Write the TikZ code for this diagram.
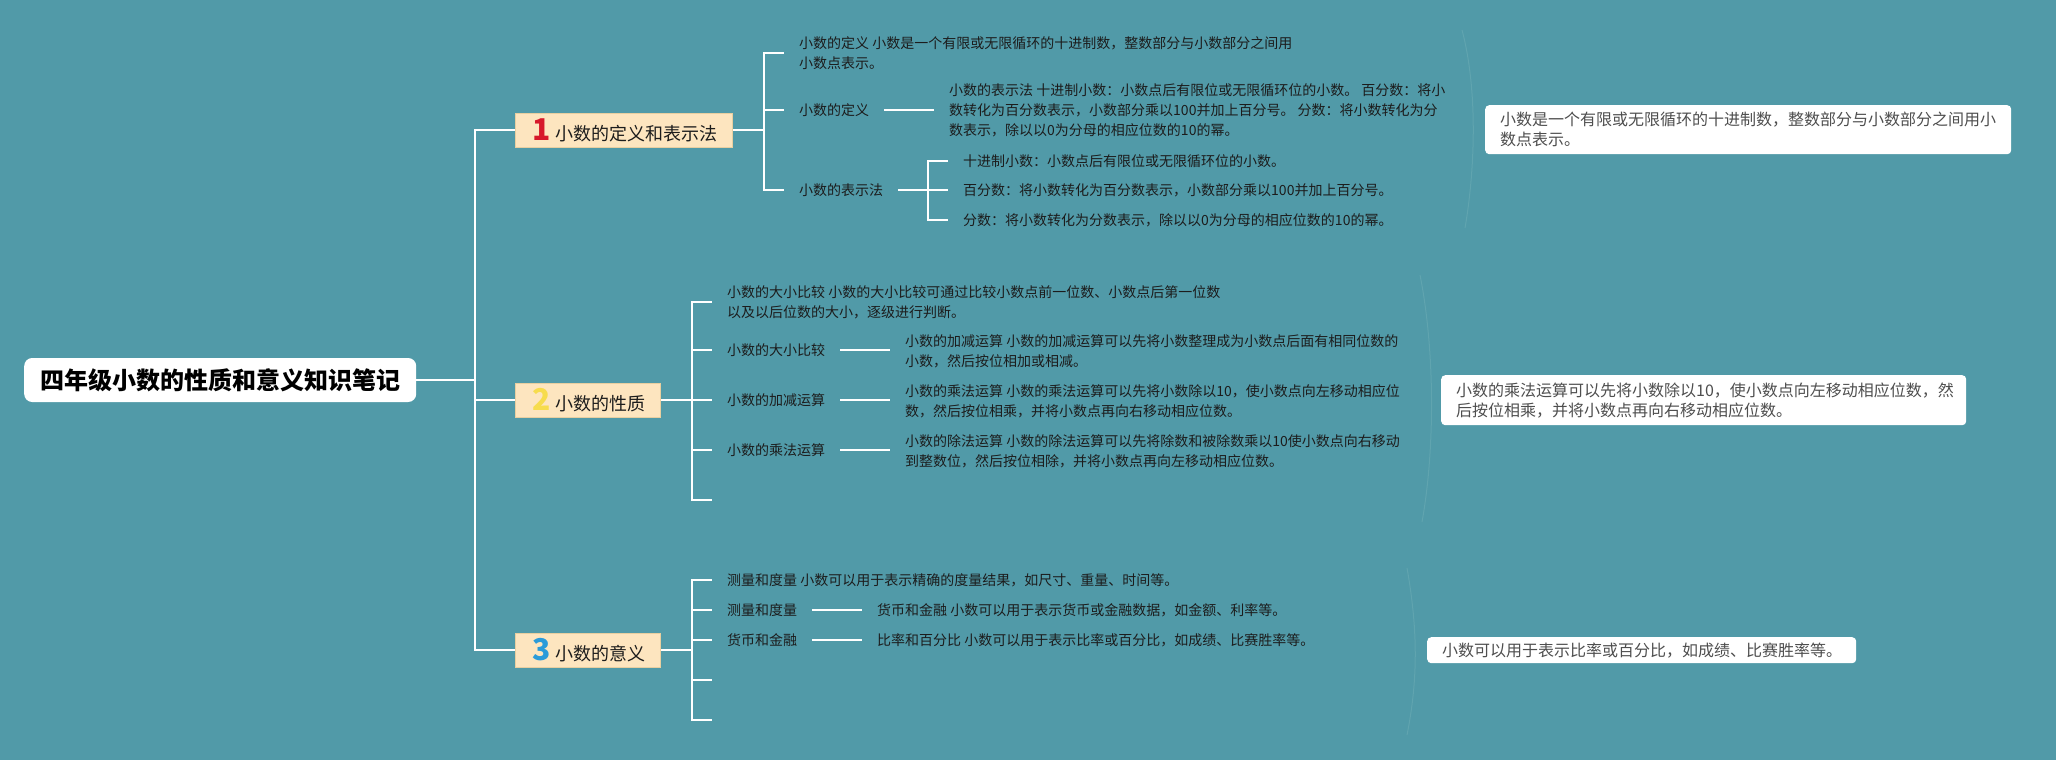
\documentclass[tikz,border=0pt]{standalone}
\usepackage{fontspec}
\setmainfont{Noto Sans CJK SC}
\usepackage{xcolor}
\usepackage{tikz}
\usetikzlibrary{
    positioning
}

\definecolor{bgteal}{RGB}{81,154,168}
\definecolor{topicfill}{RGB}{253,229,191}
\definecolor{topicline}{RGB}{233,207,160}
\definecolor{textdark}{RGB}{28,28,28}
\definecolor{notegray}{RGB}{78,78,78}
\definecolor{summline}{RGB}{96,164,175}
\definecolor{numred}{RGB}{215,24,42}
\definecolor{numyellow}{RGB}{247,220,77}
\definecolor{numblue}{RGB}{43,155,217}

\newcommand{\bignum}[2]{{\fontsize{30}{30}\selectfont\bfseries\color{#1}#2}}

\begin{document}
\begin{tikzpicture}[
      x=1pt, y=-1pt,
      root/.style={rectangle, fill=white, rounded corners=8pt, anchor=west,
          inner xsep=16pt, inner ysep=0pt, minimum height=44pt,
          font=\fontsize{24}{28}\selectfont\bfseries, text=black},
      topic/.style={rectangle, fill=topicfill, draw=topicline, line width=0.8pt, anchor=west,
          inner xsep=15pt, inner ysep=0pt, minimum height=34pt,
          font=\fontsize{18}{22}\selectfont, text=textdark},
      leaf/.style={anchor=west, inner xsep=15pt, inner ysep=2pt, align=left,
          font=\fontsize{14}{20}\selectfont, text=textdark},
      note/.style={rectangle, fill=white, rounded corners=4pt, anchor=north west,
          inner xsep=15pt, inner ysep=0pt, align=left,
          font=\fontsize{16}{20}\selectfont, text=notegray},
      link/.style={draw=white, line width=2pt},
      summ/.style={draw=summline, line width=1pt}
    ]
    \path[use as bounding box, fill=bgteal] (0,0) rectangle (2056,760);

    \node[root] (root) at (24,380) {四年级小数的性质和意义知识笔记};

    \node[topic] (b1) at (515,130) {\hspace{2pt}\bignum{numred}{1}\hspace{5pt}小数的定义和表示法};
    \node[topic] (b2) at (515,400) {\hspace{2pt}\bignum{numyellow}{2}\hspace{5pt}小数的性质};
    \node[topic] (b3) at (515,650) {\hspace{2pt}\bignum{numblue}{3}\hspace{5pt}小数的意义};

    % branch 1
    \node[leaf] (t11) at (784,53) {小数的定义 小数是一个有限或无限循环的十进制数，整数部分与小数部分之间用\\小数点表示。};
    \node[leaf] (t12) at (784,110) {小数的定义};
    \node[leaf] (t12r) at (934,110) {小数的表示法 十进制小数：小数点后有限位或无限循环位的小数。 百分数：将小\\数转化为百分数表示，小数部分乘以100并加上百分号。 分数：将小数转化为分\\数表示，除以以0为分母的相应位数的10的幂。};
    \node[leaf] (t13) at (784,190) {小数的表示法};
    \node[leaf] (t131) at (948,161) {十进制小数：小数点后有限位或无限循环位的小数。};
    \node[leaf] (t132) at (948,190) {百分数：将小数转化为百分数表示，小数部分乘以100并加上百分号。};
    \node[leaf] (t133) at (948,220) {分数：将小数转化为分数表示，除以以0为分母的相应位数的10的幂。};

    % branch 2
    \node[leaf] (t21) at (712,302) {小数的大小比较 小数的大小比较可通过比较小数点前一位数、小数点后第一位数\\以及以后位数的大小，逐级进行判断。};
    \node[leaf] (t22) at (712,350) {小数的大小比较};
    \node[leaf] (t22r) at (890,351) {小数的加减运算 小数的加减运算可以先将小数整理成为小数点后面有相同位数的\\小数，然后按位相加或相减。};
    \node[leaf] (t23) at (712,400) {小数的加减运算};
    \node[leaf] (t23r) at (890,401) {小数的乘法运算 小数的乘法运算可以先将小数除以10，使小数点向左移动相应位\\数，然后按位相乘，并将小数点再向右移动相应位数。};
    \node[leaf] (t24) at (712,450) {小数的乘法运算};
    \node[leaf] (t24r) at (890,451) {小数的除法运算 小数的除法运算可以先将除数和被除数乘以10使小数点向右移动\\到整数位，然后按位相除，并将小数点再向左移动相应位数。};
    \coordinate (e25) at (712,500);

    % branch 3
    \node[leaf] (t31) at (712,580) {测量和度量 小数可以用于表示精确的度量结果，如尺寸、重量、时间等。};
    \node[leaf] (t32) at (712,610) {测量和度量};
    \node[leaf] (t32r) at (862,610) {货币和金融 小数可以用于表示货币或金融数据，如金额、利率等。};
    \node[leaf] (t33) at (712,640) {货币和金融};
    \node[leaf] (t33r) at (862,640) {比率和百分比 小数可以用于表示比率或百分比，如成绩、比赛胜率等。};
    \coordinate (e34) at (712,680);
    \coordinate (e35) at (712,720);

    % notes
    \node[note, text width=496pt, minimum height=49pt] (n1) at (1485,105) {小数是一个有限或无限循环的十进制数，整数部分与小数部分之间用小\\数点表示。};
    \node[note, text width=495pt, minimum height=50pt] (n2) at (1441,375) {小数的乘法运算可以先将小数除以10，使小数点向左移动相应位数，然\\后按位相乘，并将小数点再向右移动相应位数。};
    \node[note, text width=399pt, minimum height=26pt] (n3) at (1427,637) {小数可以用于表示比率或百分比，如成绩、比赛胜率等。};

    \draw[summ] (1462,30) .. controls (1478,90) and (1475,170) .. (1465,228);
    \draw[summ] (1420,275) .. controls (1435,350) and (1435,450) .. (1422,522);
    \draw[summ] (1407,568) .. controls (1418,630) and (1418,680) .. (1407,735);

    % connectors
    \coordinate (k0) at (475,380);
    \draw[link] (root.east) -- (k0);
    \draw[link] (k0) |- (b1.west);
    \draw[link] (k0) |- (b2.west);
    \draw[link] (k0) |- (b3.west);

    \coordinate (k1) at (764,130);
    \draw[link] (b1.east) -- (k1);
    \draw[link] (k1) |- (t11.west);
    \draw[link] (k1) |- (t12.west);
    \draw[link] (k1) |- (t13.west);
    \draw[link] (t12.east) -- (t12r.west);
    \draw[link] (t13.east) -- ++(30,0) coordinate (k13);
    \draw[link] (k13) |- (t131.west);
    \draw[link] (k13) |- (t133.west);
    \draw[link] (k13) -- (t132.west);

    \coordinate (k2) at (692,400);
    \draw[link] (b2.east) -- (k2);
    \draw[link] (k2) |- (t21.west);
    \draw[link] (k2) |- (t22.west);
    \draw[link] (k2) |- (t23.west);
    \draw[link] (k2) |- (t24.west);
    \draw[link] (k2) |- (e25);
    \draw[link] (t22.east) -- (t22.east -| t22r.west);
    \draw[link] (t23.east) -- (t23.east -| t23r.west);
    \draw[link] (t24.east) -- (t24.east -| t24r.west);

    \coordinate (k3) at (692,650);
    \draw[link] (b3.east) -- (k3);
    \draw[link] (k3) |- (t31.west);
    \draw[link] (k3) |- (t32.west);
    \draw[link] (k3) |- (t33.west);
    \draw[link] (k3) |- (e34);
    \draw[link] (k3) |- (e35);
    \draw[link] (t32.east) -- (t32r.west);
    \draw[link] (t33.east) -- (t33r.west);
  \end{tikzpicture}
\end{document}
